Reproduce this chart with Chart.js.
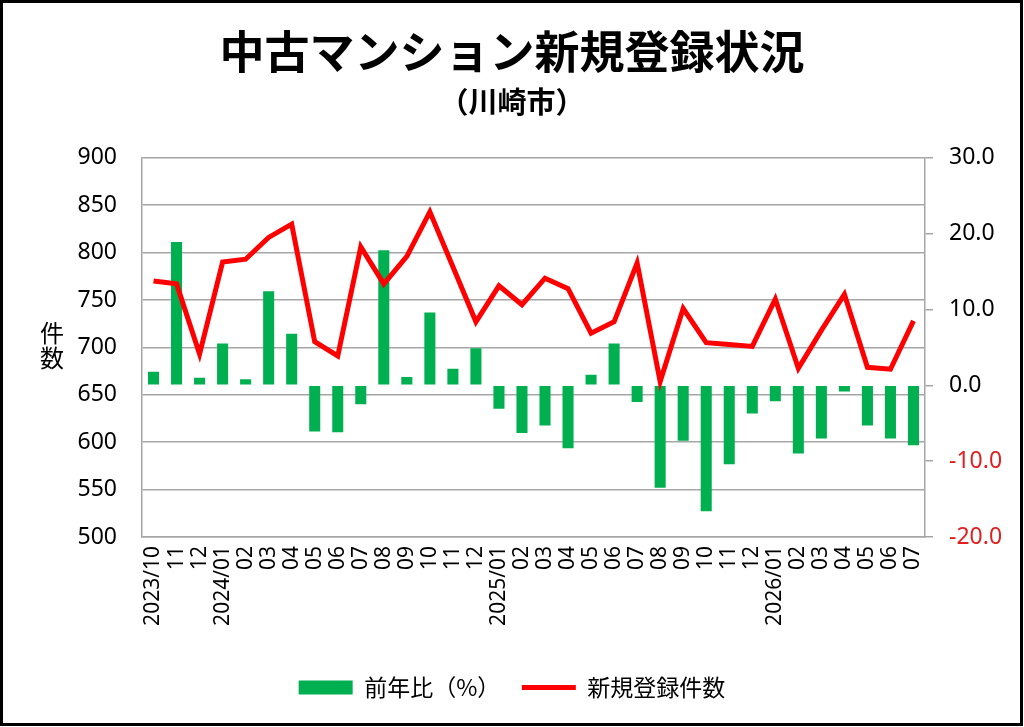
<!DOCTYPE html>
<html>
<head>
<meta charset="utf-8">
<script src="https://cdn.jsdelivr.net/npm/chart.js@4/dist/chart.umd.min.js"></script>
<style>
html,body{margin:0;padding:0;background:#fff;}
canvas{display:block;}
</style>
</head>
<body>
<canvas id="c" width="1024" height="727"></canvas>
<script>
const categories = ['2023/10','11','12','2024/01','02','03','04','05','06','07','08','09','10','11','12','2025/01','02','03','04','05','06','07','08','09','10','11','12','2026/01','02','03','04','05','06','07'];
const yoyPercent = [1.8, 18.9, 1.0, 5.5, 0.8, 12.4, 6.8, -6.1, -6.2, -2.5, 17.8, 1.1, 9.6, 2.2, 4.9, -3.1, -6.3, -5.3, -8.3, 1.4, 5.5, -2.2, -13.5, -7.3, -16.6, -10.4, -3.7, -2.1, -9.0, -7.0, -0.8, -5.3, -7.0, -7.9];
const newListings = [770, 767, 693, 790, 793, 816, 830, 706, 691, 806, 767, 796, 843, 785, 727, 765, 745, 773, 762, 715, 727, 789, 664, 741, 705, 703, 701, 751, 678, 718, 756, 679, 677, 728];
const titleText = '中古マンション新規登録状況';
const subtitleText = '（川崎市）';
const yTitleChars = ['件', '数'];
const barLabel = '前年比（%）';
const lineLabel = '新規登録件数';

const GREEN = '#00B050';
const RED = '#FF0000';
const GRID = '#A6A6A6';
const NUMFONT = '"Noto Sans", "Open Sans", sans-serif';
const JPFONT = '"Noto Sans CJK JP", "Noto Sans", sans-serif';

const framePlugin = {
  id: 'frame',
  beforeDraw(chart) {
    const ctx = chart.ctx;
    ctx.save();
    ctx.fillStyle = '#fff';
    ctx.fillRect(0, 0, chart.width, chart.height);
    ctx.restore();
  },
  afterDraw(chart) {
    const ctx = chart.ctx;
    ctx.save();
    ctx.strokeStyle = '#000';
    ctx.lineWidth = 3;
    ctx.strokeRect(1.5, 1.5, chart.width - 4, chart.height - 4);
    ctx.fillStyle = '#000';
    ctx.font = '24px ' + JPFONT;
    ctx.textAlign = 'center';
    ctx.textBaseline = 'middle';
    ctx.fillText(yTitleChars[0], 52, 333);
    ctx.fillText(yTitleChars[1], 52, 358);
    ctx.restore();
  }
};

new Chart(document.getElementById('c'), {
  data: {
    labels: categories,
    datasets: [
      {
        type: 'line',
        label: lineLabel,
        data: newListings,
        yAxisID: 'y',
        borderColor: RED,
        backgroundColor: RED,
        borderWidth: 5,
        pointRadius: 0,
        tension: 0,
        order: 0
      },
      {
        type: 'bar',
        label: barLabel,
        data: yoyPercent,
        yAxisID: 'y1',
        backgroundColor: GREEN,
        borderWidth: 0,
        barPercentage: 0.48,
        categoryPercentage: 1.0,
        order: 1
      }
    ]
  },
  options: {
    responsive: false,
    animation: false,
    devicePixelRatio: 1,
    layout: { padding: { left: 0, right: 0, top: 0, bottom: 18 } },
    plugins: {
      title: {
        display: true,
        text: titleText,
        color: '#000',
        font: { family: JPFONT, size: 45, weight: 'bold' },
        padding: { top: 25, bottom: 0 }
      },
      subtitle: {
        display: true,
        text: subtitleText,
        color: '#000',
        font: { family: JPFONT, size: 29, weight: 'bold' },
        padding: { top: 6, bottom: 38 }
      },
      legend: {
        display: true,
        position: 'bottom',
        reverse: true,
        labels: {
          color: '#000',
          font: { family: JPFONT, size: 23 },
          usePointStyle: true,
          pointStyleWidth: 54,
          boxHeight: 14,
          padding: 10,
          generateLabels(chart) {
            const items = Chart.defaults.plugins.legend.labels.generateLabels(chart);
            items.forEach(it => {
              const ds = chart.data.datasets[it.datasetIndex];
              if (ds.type === 'bar') {
                it.pointStyle = 'rect';
                it.fillStyle = GREEN;
                it.strokeStyle = GREEN;
                it.lineWidth = 0;
                it.text = it.text + '\u3000';
              } else {
                it.pointStyle = 'line';
                it.strokeStyle = RED;
                it.fillStyle = RED;
                it.lineWidth = 5;
              }
            });
            return items;
          }
        }
      },
      tooltip: { enabled: false }
    },
    scales: {
      x: {
        grid: { display: false },
        border: { display: true, color: GRID, width: 1.5 },
        ticks: {
          color: '#000',
          font: { family: NUMFONT, size: 21 },
          autoSkip: false,
          minRotation: 90,
          maxRotation: 90,
          padding: 1
        },
        afterFit(scale) { scale.height = 129; }
      },
      y: {
        position: 'left',
        min: 500,
        max: 900,
        grid: { color: GRID, lineWidth: 1.5, drawTicks: false },
        border: { display: true, color: GRID, width: 1.5 },
        ticks: {
          stepSize: 50,
          color: '#000',
          font: { family: NUMFONT, size: 23 },
          padding: 25
        },
        afterFit(scale) { scale.width = 142; }
      },
      y1: {
        position: 'right',
        min: -20,
        max: 30,
        grid: { drawOnChartArea: false, color: GRID, lineWidth: 1.5, tickLength: 8 },
        border: { display: true, color: GRID, width: 1.5 },
        ticks: {
          stepSize: 10,
          font: { family: NUMFONT, size: 23 },
          padding: 16,
          color: (c) => (c.tick && c.tick.value < 0 ? '#E02020' : '#000'),
          callback: (v) => Number(v).toFixed(1)
        },
        afterFit(scale) { scale.width = 99; }
      }
    }
  },
  plugins: [framePlugin]
});
</script>
</body>
</html>
